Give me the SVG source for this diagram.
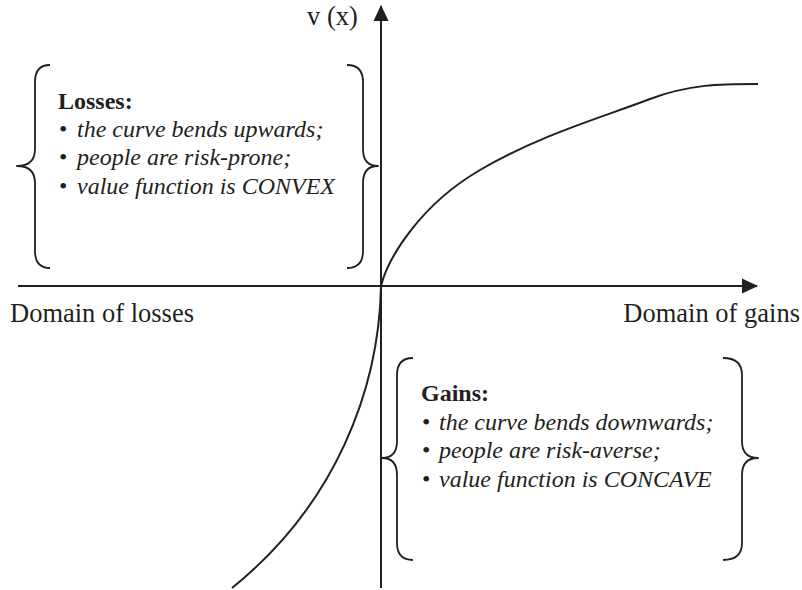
<svg xmlns="http://www.w3.org/2000/svg" width="802" height="590" viewBox="0 0 802 590">
  <style>
    .ink { fill: none; stroke: #231f20; stroke-linecap: butt; stroke-linejoin: round; }
    .axis { stroke-width: 2; }
    .curve { stroke-width: 2; }
    .brace { stroke-width: 1.8; }
    text { font-family: "Liberation Serif", "Times New Roman", serif; fill: #231f20; }
    .label { font-size: 26.5px; }
    .note { font-size: 24px; }
    .head { font-weight: bold; }
    .it { font-style: italic; }
  </style>
  <defs>
    <marker id="arrow" viewBox="0 0 16 16" refX="15" refY="8" markerWidth="16" markerHeight="16" markerUnits="userSpaceOnUse" orient="auto">
      <path d="M0,0.5 L16,8 L0,15.5 Z" fill="#231f20"/>
    </marker>
  </defs>

  <rect width="802" height="590" fill="#ffffff"/>

  <!-- coordinate axes -->
  <g id="axes">
    <line class="ink axis" x1="381" y1="588" x2="381" y2="6" marker-end="url(#arrow)"/>
    <line class="ink axis" x1="18" y1="286" x2="757" y2="286" marker-end="url(#arrow)"/>
  </g>

  <!-- value function: concave for gains, convex for losses -->
  <g id="value-curve">
    <path class="ink curve" d="M381,286 C388,258 420,205 480,170 C540,135 600,118 650,99 C690,84 720,84 758,84"/>
    <path class="ink curve" d="M381,286 C379,390 335,505 232,588"/>
  </g>

  <!-- axis labels -->
  <g id="labels">
    <text class="label" x="307" y="25" font-size="26">v (x)</text>
    <text class="label" x="10" y="322">Domain of losses</text>
    <text class="label" x="800" y="322" text-anchor="end">Domain of gains</text>
  </g>

  <!-- losses note -->
  <g id="losses">
    <path class="ink brace" d="M50,65 Q35,65 35,82 L35,149 Q35,166 17,166 Q35,166 35,183 L35,251 Q35,268 50,268"/>
    <path class="ink brace" d="M347,65 Q363,65 363,82 L363,149 Q363,166 378,166 Q363,166 363,183 L363,251 Q363,268 347,268"/>
    <text class="note head" x="58" y="109">Losses:</text>
    <text class="note" x="59" y="137">•<tspan class="it" x="77">the curve bends upwards;</tspan></text>
    <text class="note" x="59" y="165">•<tspan class="it" x="77">people are risk-prone;</tspan></text>
    <text class="note" x="59" y="194">•<tspan class="it" x="77">value function is CONVEX</tspan></text>
  </g>

  <!-- gains note -->
  <g id="gains">
    <path class="ink brace" d="M413,358 Q397,358 397,375 L397,441 Q397,458 382,458 Q397,458 397,475 L397,543 Q397,560 413,560"/>
    <path class="ink brace" d="M723,358 Q742,358 742,375 L742,441 Q742,458 758,458 Q742,458 742,475 L742,543 Q742,560 723,560"/>
    <text class="note head" x="421" y="401">Gains:</text>
    <text class="note" x="422" y="430">•<tspan class="it" x="439">the curve bends downwards;</tspan></text>
    <text class="note" x="422" y="458">•<tspan class="it" x="439">people are risk-averse;</tspan></text>
    <text class="note" x="422" y="487">•<tspan class="it" x="439">value function is CONCAVE</tspan></text>
  </g>
</svg>
